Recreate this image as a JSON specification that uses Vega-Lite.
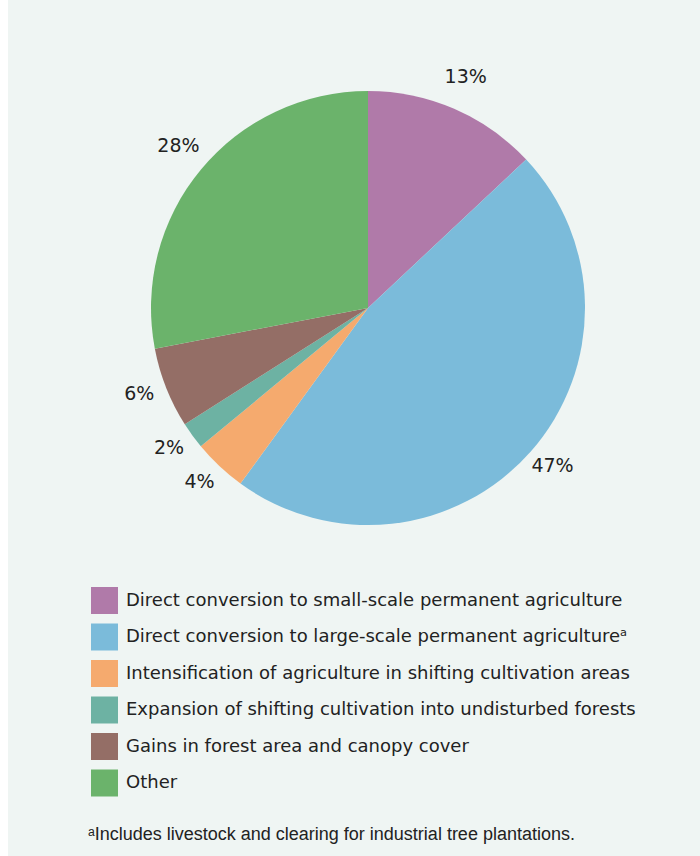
{
  "$schema": "https://vega.github.io/schema/vega-lite/v6.json",
  "width": 692,
  "height": 856,
  "autosize": "none",
  "padding": {"left": 8, "top": 0, "right": 0, "bottom": 0},
  "background": "white",
  "config": {
    "view": {"fill": "#eff5f3", "stroke": null},
    "font": "DejaVu Sans"
  },
  "title": {
    "text": "ᵃIncludes livestock and clearing for industrial tree plantations.",
    "orient": "bottom",
    "anchor": "start",
    "frame": "group",
    "offset": -30,
    "dx": 80,
    "fontSize": 18,
    "fontWeight": "normal",
    "color": "#222222",
    "font": "Liberation Sans"
  },
  "data": {
    "values": [
      {"category": "Direct conversion to small-scale permanent agriculture", "value": 13, "label": "13%", "order": 1},
      {"category": "Direct conversion to large-scale permanent agricultureᵃ", "value": 47, "label": "47%", "order": 2},
      {"category": "Intensification of agriculture in shifting cultivation areas", "value": 4, "label": "4%", "order": 3},
      {"category": "Expansion of shifting cultivation into undisturbed forests", "value": 2, "label": "2%", "order": 4},
      {"category": "Gains in forest area and canopy cover", "value": 6, "label": "6%", "order": 5},
      {"category": "Other", "value": 28, "label": "28%", "order": 6}
    ]
  },
  "encoding": {
    "theta": {"field": "value", "type": "quantitative", "stack": true},
    "order": {"field": "order", "type": "quantitative"},
    "x": {"value": 360},
    "y": {"value": 308}
  },
  "layer": [
    {
      "mark": {"type": "arc", "outerRadius": 217, "stroke": null},
      "encoding": {
        "color": {
          "field": "category",
          "type": "nominal",
          "scale": {
            "domain": [
              "Direct conversion to small-scale permanent agriculture",
              "Direct conversion to large-scale permanent agricultureᵃ",
              "Intensification of agriculture in shifting cultivation areas",
              "Expansion of shifting cultivation into undisturbed forests",
              "Gains in forest area and canopy cover",
              "Other"
            ],
            "range": ["#b07aa9", "#7bbbda", "#f5aa6e", "#6db2a3", "#946e66", "#6bb36b"]
          },
          "legend": {
            "title": null,
            "orient": "none",
            "legendX": 83,
            "legendY": 587,
            "symbolType": "square",
            "symbolSize": 729,
            "symbolStrokeWidth": 0,
            "symbolOpacity": 1,
            "labelFont": "DejaVu Sans",
            "labelFontSize": 18,
            "labelColor": "#222222",
            "labelOffset": 8,
            "labelLimit": 650,
            "rowPadding": 9.5
          }
        }
      }
    },
    {
      "mark": {"type": "text", "radius": 246, "dy": -5, "fontSize": 19, "font": "DejaVu Sans", "color": "#222222", "align": "center", "baseline": "middle"},
      "encoding": {
        "text": {"field": "label", "type": "nominal"}
      }
    }
  ]
}
